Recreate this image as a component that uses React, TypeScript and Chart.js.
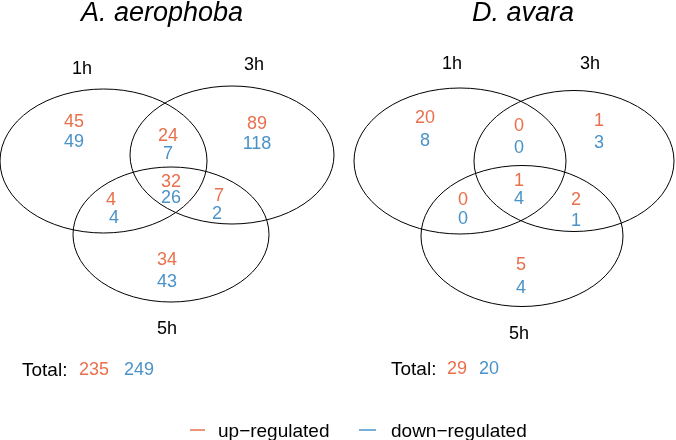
import React, { useEffect, useRef } from "react";
import { Chart, registerables } from "chart.js";

Chart.register(...registerables);

// ---- Data ----
const panelTitles = ["A. aerophoba", "D. avara"];
const setNames = ["1h", "3h", "5h"];
// region order: 1h only, 3h only, 5h only, 1h∩3h, 1h∩5h, 3h∩5h, 1h∩3h∩5h
const regionNames = ["1h", "3h", "5h", "1h&3h", "1h&5h", "3h&5h", "1h&3h&5h"];
const aerophobaUp = [45, 89, 34, 24, 4, 7, 32];
const aerophobaDown = [49, 118, 43, 7, 4, 2, 26];
const avaraUp = [20, 1, 5, 0, 0, 2, 1];
const avaraDown = [8, 3, 4, 0, 0, 1, 4];
const legendLabels = ["up-regulated", "down-regulated"];
const totalLabel = "Total:";

// ---- Styles / layout ----
const UP = "#E9704C";
const DOWN = "#4A93C8";
const FONT = "'Liberation Sans', Arial, sans-serif";
const W = 676;
const H = 440;
const DY = 1.5; // vertical nudge for 'middle' baseline

type Layout = {
  title: [number, number];
  ellipses: [number, number, number, number][];
  setLabels: [number, number][];
  up: [number, number][];
  down: [number, number][];
  totalX: number;
  totalY: number;
  totalUpX: number;
  totalDownX: number;
};

const layouts: Layout[] = [
  {
    title: [162, 21],
    ellipses: [
      [103.5, 161, 103.5, 72],
      [232, 155, 102, 69],
      [171, 234.5, 98, 67.5],
    ],
    setLabels: [[82, 68], [254, 64], [167, 328]],
    up: [[74, 121], [257, 123], [167, 259], [168, 135], [111, 199], [219, 195], [171, 181]],
    down: [[74, 141], [257, 143], [167, 281], [168, 153], [114, 217], [217, 213], [171, 197]],
    totalX: 22,
    totalY: 369,
    totalUpX: 94,
    totalDownX: 139,
  },
  {
    title: [523, 21],
    ellipses: [
      [460, 161, 106, 73],
      [574, 161, 100, 70.5],
      [522, 236, 101, 70.5],
    ],
    setLabels: [[452, 63], [590, 63], [519, 333]],
    up: [[425, 117], [599, 120], [521, 264], [519, 125], [463, 199], [576, 199], [519, 180]],
    down: [[425, 140], [599, 142], [521, 287], [519, 147], [463, 218], [576, 220], [519, 198]],
    totalX: 391,
    totalY: 368,
    totalUpX: 457,
    totalDownX: 489,
  },
];

const legendLayout = [
  { x0: 190, x1: 205, tx: 218, y: 430 },
  { x0: 359, x1: 376, tx: 391, y: 430 },
];

const panelValues = [
  { up: aerophobaUp, down: aerophobaDown },
  { up: avaraUp, down: avaraDown },
];

const sum = (a: number[]) => a.reduce((s, v) => s + v, 0);

const vennPlugin = {
  id: "venn",
  afterDatasetsDraw(chart: any) {
    const ctx: CanvasRenderingContext2D = chart.ctx;
    const xs = chart.scales.x;
    const ys = chart.scales.y;
    const px = (v: number) => xs.getPixelForValue(v);
    const py = (v: number) => ys.getPixelForValue(v);
    ctx.save();

    layouts.forEach((L, p) => {
      // ellipses
      ctx.strokeStyle = "#000";
      ctx.lineWidth = 1;
      L.ellipses.forEach(([cx, cy, rx, ry]) => {
        const x = px(cx);
        const y = py(cy);
        const rpx = Math.abs(px(cx + rx) - x);
        const rpy = Math.abs(py(cy + ry) - y);
        ctx.beginPath();
        ctx.ellipse(x, y, rpx, rpy, 0, 0, Math.PI * 2);
        ctx.stroke();
      });

      // title
      ctx.fillStyle = "#000";
      ctx.textAlign = "center";
      ctx.textBaseline = "alphabetic";
      ctx.font = `italic 27px ${FONT}`;
      ctx.fillText(panelTitles[p], px(L.title[0]), py(L.title[1]));

      // set labels
      ctx.font = `18px ${FONT}`;
      ctx.textBaseline = "middle";
      setNames.forEach((s, i) => {
        ctx.fillText(s, px(L.setLabels[i][0]), py(L.setLabels[i][1]) + DY);
      });

      // totals
      const vals = panelValues[p];
      ctx.font = `19px ${FONT}`;
      ctx.textAlign = "left";
      ctx.fillStyle = "#000";
      ctx.fillText(totalLabel, px(L.totalX), py(L.totalY) + DY);
      ctx.font = `18px ${FONT}`;
      ctx.textAlign = "center";
      ctx.fillStyle = UP;
      ctx.fillText(String(sum(vals.up)), px(L.totalUpX), py(L.totalY) + DY);
      ctx.fillStyle = DOWN;
      ctx.fillText(String(sum(vals.down)), px(L.totalDownX), py(L.totalY) + DY);
    });

    // region counts from dataset points (positioned by the scales)
    ctx.font = `18px ${FONT}`;
    ctx.textAlign = "center";
    ctx.textBaseline = "middle";
    chart.data.datasets.forEach((ds: any, di: number) => {
      const meta = chart.getDatasetMeta(di);
      ctx.fillStyle = ds.borderColor;
      meta.data.forEach((el: any, j: number) => {
        ctx.fillText(String(ds.data[j].v), el.x, el.y + DY);
      });
    });

    // legend
    ctx.font = `19px ${FONT}`;
    legendLabels.forEach((lab, i) => {
      const g = legendLayout[i];
      ctx.strokeStyle = i === 0 ? UP : DOWN;
      ctx.lineWidth = 1.5;
      ctx.beginPath();
      ctx.moveTo(px(g.x0), py(g.y));
      ctx.lineTo(px(g.x1), py(g.y));
      ctx.stroke();
      ctx.fillStyle = "#000";
      ctx.textAlign = "left";
      ctx.fillText(lab.replace("-", "\u2212"), px(g.tx), py(g.y) + DY);
    });

    ctx.restore();
  },
};

export default function App() {
  const ref = useRef<HTMLCanvasElement | null>(null);
  useEffect(() => {
    if (!ref.current) return;
    const datasets: any[] = [];
    layouts.forEach((L, p) => {
      const vals = panelValues[p];
      datasets.push({
        label: `${panelTitles[p]} ${legendLabels[0]}`,
        borderColor: UP,
        backgroundColor: UP,
        pointRadius: 0,
        data: regionNames.map((r, i) => ({ x: L.up[i][0], y: L.up[i][1], v: vals.up[i], r })),
      });
      datasets.push({
        label: `${panelTitles[p]} ${legendLabels[1]}`,
        borderColor: DOWN,
        backgroundColor: DOWN,
        pointRadius: 0,
        data: regionNames.map((r, i) => ({ x: L.down[i][0], y: L.down[i][1], v: vals.down[i], r })),
      });
    });
    const chart = new Chart(ref.current, {
      type: "scatter",
      data: { datasets },
      options: {
        animation: false,
        responsive: false,
        layout: { padding: 0 },
        scales: {
          x: { type: "linear", min: 0, max: W, display: false },
          y: { type: "linear", min: 0, max: H, reverse: true, display: false },
        },
        plugins: { legend: { display: false }, tooltip: { enabled: false } },
      },
      plugins: [vennPlugin],
    });
    return () => chart.destroy();
  }, []);
  return (
    <div style={{ position: "absolute", left: 0, top: 0, width: W, height: H, background: "#fff" }}>
      <canvas ref={ref} width={W} height={H} style={{ width: W, height: H }} />
    </div>
  );
}
